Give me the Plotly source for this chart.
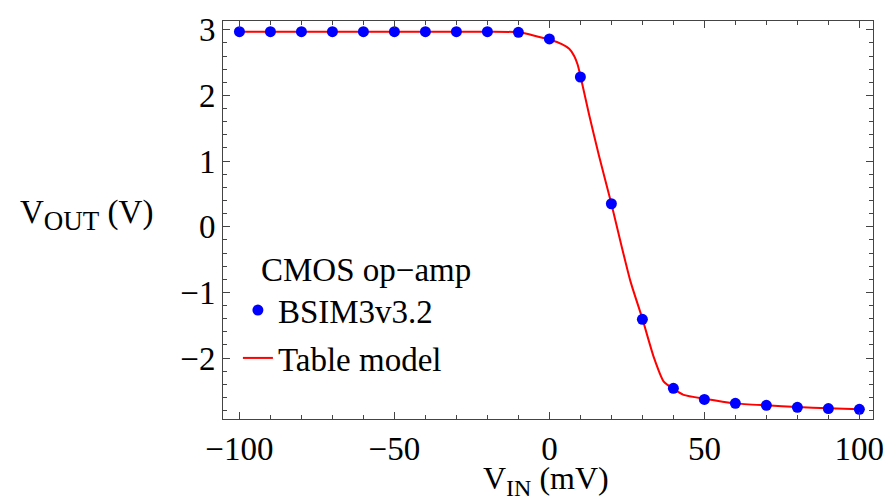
import plotly.graph_objects as go

# Simulated transfer characteristic (BSIM3v3.2), sampled every 10 mV
vin_sim = [-100, -90, -80, -70, -60, -50, -40, -30, -20, -10,
           0, 10, 20, 30, 40, 50, 60, 70, 80, 90, 100]
vout_sim = [2.97, 2.97, 2.97, 2.97, 2.97, 2.97, 2.97, 2.97, 2.97, 2.96,
            2.86, 2.28, 0.35, -1.41, -2.46, -2.63, -2.69, -2.72, -2.75, -2.77, -2.78]

# Table-model curve
vin_tab = [-100, -60, -20, -10, 0, 4, 6.4, 8, 9.1, 10, 12.8, 16, 20, 23, 26.2,
           30, 33.7, 36.9, 40, 43.3, 50, 60, 70, 80, 90, 100]
vout_tab = [2.97, 2.97, 2.97, 2.96, 2.85, 2.78, 2.71, 2.6, 2.47, 2.3, 1.71, 1.08,
            0.35, -0.24, -0.84, -1.40, -1.99, -2.36, -2.47, -2.56, -2.62, -2.69,
            -2.72, -2.745, -2.765, -2.78]

FONT = "Liberation Serif"
FS = 33
W, H = 896, 499
L, R, T, B = 223, 19, 15, 80
pw, ph = W - L - R, H - T - B


def px(x):
    return (x - L) / pw


def py(y):
    return (H - B - y) / ph


fig = go.Figure()
fig.add_trace(go.Scatter(
    x=vin_tab, y=vout_tab, mode="lines", name="Table model",
    line=dict(color="#ff0000", width=2, shape="spline", smoothing=0.6),
    legendgroup="b", legendrank=2,
))
fig.add_trace(go.Scatter(
    x=vin_sim, y=vout_sim, mode="markers", name="BSIM3v3.2",
    marker=dict(color="#0000ff", size=11),
    legendgroup="a", legendrank=1,
))

axis_common = dict(
    showgrid=False, zeroline=False, showline=True, linecolor="#444444",
    linewidth=1, mirror="allticks", ticks="inside", ticklen=7,
    tickcolor="#444444", tickwidth=1,
    tickfont=dict(family=FONT, size=FS, color="black"),
)

fig.update_xaxes(
    range=[-105.3, 104.4], tickmode="array", tickvals=[-100, -50, 0, 50, 100],
    minor=dict(ticks="inside", ticklen=4, dtick=10, tick0=0,
               tickcolor="#444444", showgrid=False),
    **axis_common,
)
fig.update_yaxes(
    range=[-2.928, 3.133], tickmode="array", tickvals=[-2, -1, 0, 1, 2, 3],
    minor=dict(ticks="inside", ticklen=4, dtick=0.2, tick0=0,
               tickcolor="#444444", showgrid=False),
    **axis_common,
)

sub = '<sub><span style="font-size:{}px">{}</span></sub>'

fig.add_annotation(
    text="V" + sub.format(27, "OUT") + " (V)", xref="paper", yref="paper",
    x=px(17), y=py(212), xanchor="left", yanchor="middle", showarrow=False,
    font=dict(family=FONT, size=FS, color="black"),
)
fig.add_annotation(
    text="V" + sub.format(24, "IN") + " (mV)", xref="paper", yref="paper",
    x=px(483), y=py(481), xanchor="left", yanchor="middle", showarrow=False,
    font=dict(family=FONT, size=32, color="black"),
)
fig.add_annotation(
    text="CMOS op\u2212amp", xref="paper", yref="paper",
    x=px(259), y=py(268), xanchor="left", yanchor="middle", showarrow=False,
    font=dict(family=FONT, size=FS, color="black"),
)

fig.update_layout(
    width=W, height=H,
    margin=dict(l=L, r=R, t=T, b=B),
    paper_bgcolor="white", plot_bgcolor="white",
    showlegend=True,
    legend=dict(
        x=px(238), y=py(280), xanchor="left", yanchor="top",
        bgcolor="rgba(0,0,0,0)", traceorder="grouped", tracegroupgap=2,
        font=dict(family=FONT, size=FS, color="black"),
    ),
)

fig.write_html("out.html")
